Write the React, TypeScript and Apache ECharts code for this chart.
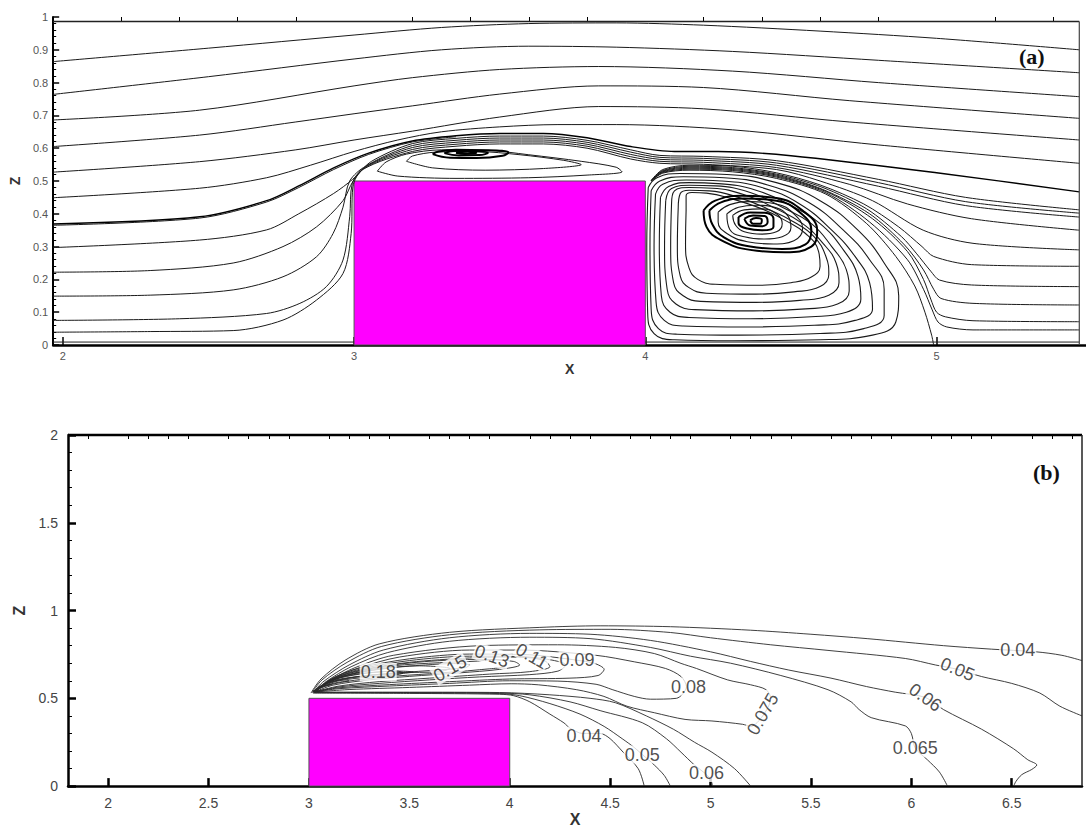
import React, { useEffect, useRef } from "react";
import * as echarts from "echarts";

type P = [number, number][];

const FONT = "Liberation Sans, Arial, sans-serif";

// ---------- axes / ticks ----------
const A_X_TICKS = [2, 3, 4, 5];
const A_X_MINOR = [2.2, 2.4, 2.6, 2.8, 3.2, 3.4, 3.6, 3.8, 4.2, 4.4, 4.6, 4.8, 5.2, 5.4];
const B_X_TICKS = [2, 2.5, 3, 3.5, 4, 4.5, 5, 5.5, 6, 6.5];
const B_X_MINOR = [1.9, 2.1, 2.2, 2.3, 2.4, 2.6, 2.7, 2.8, 2.9, 3.1, 3.2, 3.3, 3.4, 3.6, 3.7, 3.8, 3.9, 4.1, 4.2, 4.3, 4.4, 4.6, 4.7, 4.8, 4.9, 5.1, 5.2, 5.3, 5.4, 5.6, 5.7, 5.8, 5.9, 6.1, 6.2, 6.3, 6.4, 6.6, 6.7, 6.8];

// obstacle (block)
const BLOCK_X = [3, 4];
const BLOCK_Z = [0, 0.5];

// frames
const A_FRAME_TOP: P = [[1.967, 0.986], [5.49, 0.986]];
const A_FRAME_RIGHT: P = [[5.49, 0], [5.49, 0.986]];
const B_FRAME_TOP: P = [[1.8, 2], [6.85, 2]];
const B_FRAME_RIGHT: P = [[6.85, 0], [6.85, 2]];

// ---------- panel (a) streamlines ----------
const A_S1: P = [[1.967, 0.864], [2.5, 0.905], [3.0, 0.945], [3.3, 0.968], [3.6, 0.98], [3.9, 0.982], [4.2, 0.975], [4.6, 0.957], [5.0, 0.935], [5.49, 0.9]];
const A_S2: P = [[1.967, 0.764], [2.5, 0.818], [3.0, 0.872], [3.3, 0.9], [3.6, 0.911], [3.9, 0.908], [4.3, 0.895], [4.8, 0.868], [5.49, 0.83]];
const A_S3: P = [[1.967, 0.686], [2.47, 0.716], [3.0, 0.79], [3.2, 0.815], [3.5, 0.84], [3.84, 0.849], [4.3, 0.835], [4.8, 0.8], [5.49, 0.757]];
const A_S4: P = [[1.967, 0.605], [2.47, 0.64], [2.8, 0.68], [3.0, 0.705], [3.2, 0.729], [3.5, 0.765], [3.84, 0.79], [4.2, 0.785], [4.7, 0.745], [5.49, 0.691]];
const A_S5: P = [[1.967, 0.527], [2.47, 0.559], [2.8, 0.595], [3.0, 0.625], [3.2, 0.652], [3.5, 0.695], [3.84, 0.727], [4.2, 0.72], [4.7, 0.68], [5.49, 0.625]];
const A_S6: P = [[1.967, 0.449], [2.47, 0.478], [2.7, 0.51], [2.85, 0.548], [3.0, 0.59], [3.15, 0.625], [3.3, 0.65], [3.5, 0.665], [3.7, 0.672], [3.9, 0.672], [4.3, 0.656], [4.8, 0.61], [5.49, 0.554]];
const A_S7: P = [[1.967, 0.369], [2.47, 0.391], [2.7, 0.44], [2.81, 0.485], [2.93, 0.54], [3.05, 0.585], [3.2, 0.622], [3.35, 0.638], [3.5, 0.645], [3.65, 0.645], [3.8, 0.632], [3.95, 0.605], [4.1, 0.59], [4.25, 0.59], [4.5, 0.577], [5.0, 0.525], [5.49, 0.467]];
const A_S7B: P = [[1.967, 0.365], [2.47, 0.387], [2.7, 0.436], [2.81, 0.48], [2.93, 0.535], [3.05, 0.581], [3.2, 0.619], [3.35, 0.635]];
const A_S8: P = [[1.967, 0.297], [2.47, 0.32], [2.7, 0.351], [2.81, 0.4], [2.93, 0.462], [2.995, 0.505], [3.06, 0.56], [3.2, 0.614], [3.35, 0.63], [3.5, 0.637], [3.65, 0.637], [3.8, 0.624], [3.95, 0.595], [4.05, 0.578], [4.2, 0.575], [4.45, 0.562], [4.8, 0.505], [5.1, 0.45], [5.49, 0.412]];
const A_S9: P = [[1.967, 0.222], [2.3, 0.227], [2.585, 0.25], [2.756, 0.3], [2.871, 0.36], [2.962, 0.44], [2.997, 0.5], [3.05, 0.55], [3.2, 0.608], [3.35, 0.624], [3.5, 0.631], [3.65, 0.631], [3.8, 0.618], [3.95, 0.588], [4.05, 0.572], [4.2, 0.569], [4.45, 0.555], [4.8, 0.495], [5.1, 0.437], [5.49, 0.402]];
const A_S10: P = [[1.967, 0.149], [2.3, 0.152], [2.585, 0.168], [2.756, 0.208], [2.871, 0.269], [2.928, 0.34], [2.962, 0.42], [2.985, 0.5], [3.04, 0.545], [3.2, 0.602], [3.35, 0.618], [3.5, 0.625], [3.65, 0.625], [3.8, 0.612], [3.95, 0.581], [4.05, 0.566], [4.2, 0.563], [4.45, 0.548], [4.8, 0.484], [5.1, 0.425], [5.49, 0.39]];
const A_S11: P = [[1.967, 0.075], [2.4, 0.08], [2.699, 0.096], [2.814, 0.127], [2.905, 0.178], [2.962, 0.259], [2.985, 0.391], [2.994, 0.493], [3.035, 0.54], [3.2, 0.596], [3.35, 0.612], [3.5, 0.619], [3.65, 0.619], [3.8, 0.606], [3.95, 0.574], [4.05, 0.56], [4.2, 0.557], [4.45, 0.541], [4.7, 0.49], [4.9, 0.43], [5.12, 0.385], [5.49, 0.35]];
const A_S12: P = [[1.967, 0.039], [2.3, 0.041], [2.585, 0.044], [2.756, 0.076], [2.871, 0.137], [2.962, 0.218], [2.99, 0.34], [2.996, 0.482], [3.03, 0.535], [3.2, 0.59], [3.35, 0.606], [3.5, 0.613], [3.65, 0.613], [3.8, 0.6], [3.95, 0.567], [4.05, 0.554], [4.2, 0.551], [4.45, 0.535], [4.6, 0.5], [4.78, 0.44], [4.954, 0.35], [5.125, 0.31], [5.49, 0.29]];
const A_GROUND_L: P = [[1.967, 0.009], [3.0, 0.009]];
const A_GROUND_R: P = [[4.0, 0.009], [5.49, 0.009]];

// top recirculation bubble
const A_TB1: P = [[3.08, 0.53], [3.15, 0.515], [3.35, 0.508], [3.6, 0.51], [3.8, 0.518], [3.92, 0.528], [3.9, 0.542], [3.78, 0.56], [3.6, 0.58], [3.45, 0.594], [3.3, 0.595], [3.18, 0.582], [3.11, 0.558], [3.08, 0.53]];
const A_TB2: P = [[3.18, 0.56], [3.27, 0.54], [3.45, 0.533], [3.65, 0.538], [3.78, 0.55], [3.72, 0.563], [3.57, 0.58], [3.42, 0.59], [3.28, 0.588], [3.2, 0.576], [3.18, 0.56]];
const A_TB3: P = [[3.27, 0.582], [3.33, 0.571], [3.42, 0.57], [3.51, 0.577], [3.53, 0.587], [3.45, 0.594], [3.35, 0.595], [3.29, 0.59], [3.27, 0.582]];
const A_TB4: P = [[3.31, 0.585], [3.36, 0.578], [3.43, 0.579], [3.46, 0.586], [3.41, 0.591], [3.35, 0.592], [3.31, 0.585]];
const A_TB5: P = [[3.35, 0.586], [3.38, 0.582], [3.42, 0.585], [3.39, 0.589], [3.35, 0.586]];

// wake: lines leaving to the right and separatrix
const A_W1: P = [[4.02, 0.502], [4.06, 0.535], [4.15, 0.548], [4.3, 0.545], [4.45, 0.525], [4.6, 0.488], [4.75, 0.43], [4.87, 0.36], [4.95, 0.3], [4.99, 0.27], [5.12, 0.245], [5.49, 0.24]];
const A_W2: P = [[4.02, 0.501], [4.06, 0.532], [4.15, 0.545], [4.3, 0.541], [4.45, 0.521], [4.61, 0.48], [4.76, 0.415], [4.88, 0.33], [4.93, 0.28], [4.98, 0.225], [5.01, 0.198], [5.12, 0.183], [5.49, 0.178]];
const A_W3: P = [[4.02, 0.5], [4.06, 0.53], [4.15, 0.542], [4.3, 0.538], [4.45, 0.518], [4.61, 0.474], [4.77, 0.4], [4.89, 0.305], [4.955, 0.229], [4.99, 0.17], [5.015, 0.142], [5.125, 0.127], [5.49, 0.122]];
const A_W4: P = [[4.02, 0.5], [4.06, 0.528], [4.15, 0.539], [4.3, 0.535], [4.45, 0.515], [4.62, 0.468], [4.78, 0.385], [4.9, 0.285], [4.955, 0.2], [4.98, 0.14], [5.0, 0.1], [5.03, 0.086], [5.125, 0.074], [5.49, 0.071]];
const A_W5: P = [[4.02, 0.5], [4.06, 0.526], [4.15, 0.536], [4.3, 0.532], [4.45, 0.512], [4.62, 0.464], [4.77, 0.375], [4.9, 0.26], [4.955, 0.17], [4.985, 0.107], [5.005, 0.07], [5.035, 0.055], [5.125, 0.046], [5.49, 0.046]];
const A_SEP: P = [[4.02, 0.5], [4.06, 0.524], [4.15, 0.533], [4.3, 0.528], [4.45, 0.508], [4.62, 0.46], [4.76, 0.37], [4.86, 0.27], [4.925, 0.18], [4.96, 0.1], [4.983, 0.03], [4.99, 0.0]];

// wake vortex loops (outer -> inner)
const A_LOOP1: P = [[4.01, 0.48], [4.005, 0.3], [4.008, 0.1], [4.03, 0.035], [4.1, 0.016], [4.3, 0.013], [4.6, 0.016], [4.78, 0.03], [4.86, 0.07], [4.87, 0.15], [4.82, 0.25], [4.73, 0.35], [4.6, 0.44], [4.45, 0.495], [4.28, 0.52], [4.12, 0.523], [4.04, 0.51], [4.01, 0.48]];
const A_LOOP2: P = [[4.02, 0.47], [4.016, 0.3], [4.02, 0.11], [4.045, 0.05], [4.11, 0.033], [4.32, 0.03], [4.6, 0.035], [4.75, 0.05], [4.82, 0.09], [4.82, 0.17], [4.77, 0.26], [4.68, 0.35], [4.56, 0.435], [4.42, 0.488], [4.27, 0.51], [4.13, 0.513], [4.05, 0.5], [4.02, 0.47]];
const A_LOOP3: P = [[4.035, 0.46], [4.03, 0.3], [4.037, 0.13], [4.065, 0.075], [4.13, 0.058], [4.34, 0.055], [4.58, 0.06], [4.72, 0.075], [4.78, 0.11], [4.77, 0.19], [4.72, 0.27], [4.64, 0.35], [4.53, 0.43], [4.4, 0.48], [4.26, 0.5], [4.14, 0.503], [4.06, 0.49], [4.035, 0.46]];
const A_LOOP4: P = [[4.052, 0.45], [4.048, 0.3], [4.055, 0.15], [4.085, 0.1], [4.15, 0.084], [4.36, 0.08], [4.57, 0.086], [4.69, 0.1], [4.74, 0.14], [4.73, 0.21], [4.68, 0.29], [4.6, 0.37], [4.5, 0.425], [4.38, 0.472], [4.25, 0.492], [4.15, 0.495], [4.08, 0.483], [4.052, 0.45]];
const A_LOOP5: P = [[4.07, 0.44], [4.066, 0.3], [4.075, 0.17], [4.105, 0.125], [4.17, 0.108], [4.37, 0.104], [4.55, 0.11], [4.66, 0.125], [4.7, 0.165], [4.69, 0.23], [4.64, 0.3], [4.57, 0.37], [4.47, 0.42], [4.36, 0.465], [4.24, 0.485], [4.15, 0.487], [4.09, 0.477], [4.07, 0.44]];
const A_LOOP6: P = [[4.09, 0.43], [4.087, 0.3], [4.097, 0.19], [4.13, 0.15], [4.19, 0.133], [4.38, 0.13], [4.53, 0.136], [4.63, 0.152], [4.665, 0.19], [4.655, 0.25], [4.61, 0.31], [4.54, 0.37], [4.45, 0.415], [4.34, 0.458], [4.23, 0.478], [4.15, 0.48], [4.1, 0.47], [4.09, 0.43]];
const A_LOOP7: P = [[4.113, 0.42], [4.11, 0.3], [4.12, 0.21], [4.15, 0.175], [4.21, 0.158], [4.38, 0.155], [4.51, 0.162], [4.6, 0.178], [4.63, 0.215], [4.62, 0.27], [4.58, 0.33], [4.51, 0.375], [4.42, 0.415], [4.32, 0.45], [4.22, 0.47], [4.15, 0.472], [4.12, 0.462], [4.113, 0.42]];
const A_LOOP8: P = [[4.14, 0.41], [4.138, 0.31], [4.15, 0.235], [4.18, 0.2], [4.24, 0.185], [4.39, 0.182], [4.5, 0.19], [4.57, 0.207], [4.6, 0.24], [4.595, 0.285], [4.55, 0.34], [4.48, 0.38], [4.4, 0.415], [4.3, 0.445], [4.21, 0.463], [4.16, 0.465], [4.14, 0.455], [4.14, 0.41]];
const A_CORE1: P = [[4.2, 0.41], [4.24, 0.44], [4.33, 0.455], [4.45, 0.448], [4.54, 0.41], [4.59, 0.35], [4.57, 0.3], [4.48, 0.283], [4.36, 0.29], [4.26, 0.32], [4.21, 0.36], [4.2, 0.41]];
const A_CORE2: P = [[4.22, 0.41], [4.26, 0.435], [4.34, 0.447], [4.45, 0.44], [4.53, 0.405], [4.57, 0.35], [4.55, 0.307], [4.47, 0.293], [4.36, 0.3], [4.27, 0.328], [4.23, 0.368], [4.22, 0.41]];
const A_CORE3: P = [[4.25, 0.405], [4.29, 0.428], [4.36, 0.437], [4.45, 0.43], [4.51, 0.4], [4.54, 0.355], [4.51, 0.318], [4.44, 0.308], [4.35, 0.315], [4.28, 0.34], [4.25, 0.375], [4.25, 0.405]];
const A_CORE4: P = [[4.28, 0.4], [4.32, 0.42], [4.38, 0.426], [4.45, 0.418], [4.49, 0.393], [4.5, 0.358], [4.47, 0.33], [4.41, 0.323], [4.34, 0.33], [4.29, 0.352], [4.28, 0.4]];
const A_CORE5: P = [[4.3, 0.395], [4.34, 0.412], [4.4, 0.415], [4.45, 0.4], [4.47, 0.37], [4.45, 0.345], [4.4, 0.338], [4.34, 0.345], [4.31, 0.365], [4.3, 0.395]];
const A_CORE6: P = [[4.32, 0.39], [4.36, 0.404], [4.41, 0.403], [4.44, 0.385], [4.44, 0.36], [4.4, 0.35], [4.35, 0.355], [4.32, 0.372], [4.32, 0.39]];
const A_CORE7: P = [[4.34, 0.385], [4.37, 0.395], [4.41, 0.393], [4.42, 0.375], [4.4, 0.362], [4.36, 0.364], [4.34, 0.385]];
const A_CORE8: P = [[4.36, 0.38], [4.38, 0.387], [4.4, 0.382], [4.395, 0.37], [4.37, 0.37], [4.36, 0.38]];

// ---------- panel (b) contours ----------
const B_C040_UP: P = [[3.01, 0.53], [3.06, 0.61], [3.18, 0.717], [3.35, 0.81], [3.7, 0.876], [4.15, 0.904], [4.45, 0.913], [4.8, 0.908], [5.2, 0.888], [5.5, 0.865], [5.78, 0.84], [6.16, 0.8], [6.4, 0.78], [6.62, 0.765], [6.75, 0.745], [6.85, 0.715]];
const B_C050_UP: P = [[3.015, 0.532], [3.065, 0.605], [3.19, 0.705], [3.36, 0.795], [3.7, 0.862], [4.15, 0.89], [4.5, 0.893], [4.8, 0.875], [5.0, 0.845], [5.3, 0.805], [5.585, 0.773], [5.97, 0.727], [6.12, 0.69], [6.23, 0.665], [6.35, 0.624], [6.5, 0.585], [6.64, 0.53], [6.74, 0.455], [6.85, 0.4]];
const B_C060_UP: P = [[3.02, 0.534], [3.075, 0.598], [3.2, 0.69], [3.37, 0.775], [3.7, 0.845], [4.1, 0.87], [4.4, 0.865], [4.7, 0.83], [5.0, 0.765], [5.2, 0.71], [5.39, 0.661], [5.6, 0.615], [5.777, 0.567], [5.92, 0.535], [6.07, 0.505], [6.16, 0.436], [6.35, 0.324], [6.51, 0.212], [6.58, 0.15], [6.625, 0.12], [6.6, 0.095], [6.55, 0.065], [6.52, 0.025], [6.51, 0.0]];
const B_C065_UP: P = [[3.025, 0.535], [3.085, 0.595], [3.21, 0.68], [3.39, 0.76], [3.7, 0.825], [4.1, 0.848], [4.4, 0.84], [4.7, 0.79], [4.9, 0.74], [5.1, 0.7], [5.35, 0.63], [5.585, 0.549], [5.7, 0.48], [5.74, 0.436], [5.8, 0.39], [5.97, 0.343], [6.0, 0.3], [6.02, 0.215], [6.08, 0.15], [6.14, 0.08], [6.18, 0.0]];
const B_C075: P = [[3.03, 0.536], [3.1, 0.6], [3.23, 0.675], [3.42, 0.745], [3.853, 0.8], [4.238, 0.805], [4.526, 0.79], [4.72, 0.755], [4.853, 0.699], [4.93, 0.67], [5.085, 0.605], [5.2, 0.577], [5.277, 0.549], [5.3, 0.5], [5.26, 0.4], [5.2, 0.34], [5.16, 0.352], [5.007, 0.371], [4.873, 0.38], [4.72, 0.418], [4.584, 0.455], [4.469, 0.511], [4.334, 0.549], [4.142, 0.577], [4.007, 0.583], [3.8, 0.575], [3.5, 0.562], [3.2, 0.55], [3.03, 0.536]];
const B_C080: P = [[3.032, 0.537], [3.105, 0.605], [3.24, 0.67], [3.45, 0.735], [3.8, 0.775], [4.045, 0.775], [4.43, 0.745], [4.62, 0.708], [4.776, 0.67], [4.853, 0.624], [4.88, 0.567], [4.83, 0.5], [4.7, 0.495], [4.62, 0.511], [4.51, 0.55], [4.43, 0.58], [4.24, 0.598], [4.0, 0.6], [3.7, 0.585], [3.4, 0.57], [3.15, 0.555], [3.032, 0.537]];
const B_C090: P = [[3.034, 0.538], [3.11, 0.61], [3.25, 0.672], [3.5, 0.725], [3.8, 0.752], [4.1, 0.748], [4.25, 0.73], [4.335, 0.717], [4.42, 0.7], [4.47, 0.665], [4.44, 0.63], [4.3, 0.615], [4.0, 0.61], [3.7, 0.595], [3.4, 0.578], [3.15, 0.56], [3.034, 0.538]];
const B_C100: P = [[3.034, 0.538], [3.11, 0.605], [3.25, 0.665], [3.5, 0.715], [3.8, 0.74], [4.05, 0.738], [4.2, 0.72], [4.28, 0.69], [4.24, 0.655], [4.1, 0.635], [3.85, 0.622], [3.6, 0.605], [3.35, 0.585], [3.15, 0.565], [3.034, 0.538]];
const B_C110: P = [[3.033, 0.538], [3.1, 0.6], [3.24, 0.657], [3.5, 0.705], [3.8, 0.73], [3.98, 0.735], [4.11, 0.73], [4.18, 0.71], [4.2, 0.68], [4.1, 0.652], [3.9, 0.638], [3.6, 0.615], [3.35, 0.595], [3.15, 0.57], [3.033, 0.538]];
const B_C120: P = [[3.03, 0.537], [3.095, 0.595], [3.22, 0.648], [3.45, 0.695], [3.7, 0.718], [3.88, 0.722], [4.02, 0.71], [4.05, 0.69], [3.95, 0.665], [3.75, 0.645], [3.5, 0.625], [3.3, 0.605], [3.12, 0.575], [3.03, 0.537]];
const B_C130: P = [[3.03, 0.537], [3.09, 0.59], [3.21, 0.64], [3.42, 0.685], [3.65, 0.703], [3.84, 0.712], [3.911, 0.72], [3.98, 0.71], [3.98, 0.685], [3.85, 0.663], [3.6, 0.64], [3.38, 0.622], [3.18, 0.595], [3.07, 0.565], [3.03, 0.537]];
const B_C140: P = [[3.028, 0.537], [3.085, 0.585], [3.19, 0.632], [3.38, 0.672], [3.58, 0.69], [3.72, 0.698], [3.8, 0.69], [3.78, 0.675], [3.6, 0.658], [3.38, 0.64], [3.18, 0.612], [3.07, 0.575], [3.028, 0.537]];
const B_C150: P = [[3.027, 0.537], [3.08, 0.582], [3.18, 0.628], [3.35, 0.665], [3.55, 0.685], [3.703, 0.67], [3.65, 0.652], [3.45, 0.645], [3.25, 0.625], [3.1, 0.595], [3.027, 0.537]];
const B_C160: P = [[3.025, 0.537], [3.07, 0.575], [3.15, 0.615], [3.3, 0.645], [3.45, 0.655], [3.52, 0.65], [3.45, 0.64], [3.3, 0.63], [3.15, 0.605], [3.06, 0.57], [3.025, 0.537]];
const B_C180: P = [[3.022, 0.537], [3.06, 0.57], [3.13, 0.61], [3.25, 0.64], [3.345, 0.65], [3.44, 0.655], [3.47, 0.645], [3.42, 0.632], [3.3, 0.622], [3.15, 0.6], [3.07, 0.57], [3.022, 0.537]];
const B_C200: P = [[3.02, 0.537], [3.05, 0.565], [3.1, 0.59], [3.17, 0.605], [3.2, 0.6], [3.14, 0.59], [3.08, 0.572], [3.02, 0.537]];
const B_C220: P = [[3.02, 0.537], [3.04, 0.555], [3.08, 0.575], [3.11, 0.578], [3.07, 0.565], [3.02, 0.537]];
const B_C040_LO: P = [[3.02, 0.53], [3.5, 0.528], [3.95, 0.523], [4.02, 0.515], [4.1, 0.48], [4.2, 0.41], [4.27, 0.36], [4.3, 0.33], [4.363, 0.3], [4.45, 0.3], [4.5, 0.27], [4.565, 0.193], [4.64, 0.099], [4.67, 0.0]];
const B_C050_LO: P = [[3.022, 0.532], [3.5, 0.531], [3.95, 0.527], [4.05, 0.515], [4.2, 0.47], [4.35, 0.41], [4.47, 0.34], [4.56, 0.27], [4.62, 0.22], [4.66, 0.18], [4.72, 0.12], [4.77, 0.06], [4.8, 0.0]];
const B_C060_LO: P = [[3.024, 0.534], [3.5, 0.533], [3.95, 0.53], [4.1, 0.52], [4.3, 0.48], [4.45, 0.43], [4.66, 0.361], [4.78, 0.27], [4.853, 0.193], [4.92, 0.12], [4.97, 0.075], [5.0, 0.04], [5.01, 0.0]];
const B_C065_LO: P = [[3.026, 0.535], [3.5, 0.535], [3.95, 0.533], [4.2, 0.52], [4.4, 0.5], [4.526, 0.475], [4.68, 0.4], [4.815, 0.324], [4.92, 0.25], [5.007, 0.193], [5.12, 0.099], [5.2, 0.0]];

// contour labels
const B_LABEL_TEXT = ["0.18", "0.15", "0.13", "0.11", "0.09", "0.08", "0.075", "0.04", "0.05", "0.06", "0.065", "0.04", "0.05", "0.06"];
const B_LABEL_X = [3.345, 3.703, 3.911, 4.11, 4.335, 4.89, 5.26, 6.53, 6.23, 6.07, 6.02, 4.37, 4.66, 4.98];
const B_LABEL_Z = [0.65, 0.67, 0.74, 0.74, 0.717, 0.567, 0.41, 0.775, 0.665, 0.505, 0.215, 0.287, 0.18, 0.075];
const B_LABEL_ROT = [0, 30, -20, -30, 0, 0, 60, 0, -22, -35, 0, 0, 0, 0];

const A_STREAMS: P[] = [A_S1, A_S2, A_S3, A_S4, A_S5, A_S6, A_S7B, A_S8, A_S9, A_S10, A_S11, A_S12, A_TB1, A_TB2, A_W1, A_W2, A_W3, A_W4, A_W5, A_SEP];
const A_LOOPS: P[] = [A_LOOP1, A_LOOP2, A_LOOP3, A_LOOP4, A_LOOP5, A_LOOP6, A_LOOP7, A_LOOP8, A_CORE3, A_CORE4, A_CORE5];
const A_THICK: P[] = [A_TB3, A_TB4, A_TB5, A_CORE1, A_CORE2, A_CORE6, A_CORE7, A_CORE8];
const B_LINES: P[] = [B_C040_UP, B_C050_UP, B_C060_UP, B_C065_UP, B_C075, B_C080, B_C090, B_C100, B_C110, B_C120, B_C130, B_C140, B_C150, B_C160, B_C180, B_C200, B_C220, B_C040_LO, B_C050_LO, B_C060_LO, B_C065_LO];

function line(data: P, xi: number, yi: number, width: number, color: string, smooth: number | boolean = 0.3, z = 3, clip = true) {
  return {
    type: "line",
    xAxisIndex: xi,
    yAxisIndex: yi,
    data,
    symbol: "none",
    showSymbol: false,
    smooth,
    clip,
    silent: true,
    z,
    lineStyle: { color, width },
  };
}

export default function App() {
  const ref = useRef<HTMLDivElement>(null);
  useEffect(() => {
    if (!ref.current) return;
    const chart = echarts.init(ref.current, undefined, { renderer: "svg" });

    const fmt = (v: number) => String(+Number(v).toFixed(2));

    const series: any[] = [];
    series.push({
      ...line(A_GROUND_L, 0, 0, 1, "#222", false, 4),
      markArea: {
        silent: true,
        itemStyle: { color: "#ff00ff", borderColor: "#555", borderWidth: 1 },
        data: [[{ coord: [BLOCK_X[0], BLOCK_Z[0]] }, { coord: [BLOCK_X[1], BLOCK_Z[1]] }]],
      },
    });
    series.push(line(A_GROUND_R, 0, 0, 1, "#222", false, 4));
    series.push(line(A_S7, 0, 0, 1.4, "#000", 0.3, 5));
    A_STREAMS.forEach((d) => series.push(line(d, 0, 0, 1, "#1a1a1a", 0.3, 5)));
    A_LOOPS.forEach((d) => series.push(line(d, 0, 0, 1.1, "#1a1a1a", 0.45, 5)));
    A_THICK.forEach((d) => series.push(line(d, 0, 0, 2, "#000", 0.45, 5)));
    series.push(line(A_FRAME_TOP, 0, 0, 1.5, "#222", false, 6, false));
    series.push(line(A_FRAME_RIGHT, 0, 0, 1.2, "#444", false, 6, false));

    series.push({
      ...line(B_FRAME_TOP, 2, 1, 2.5, "#000", false, 6, false),
      markArea: {
        silent: true,
        itemStyle: { color: "#ff00ff", borderColor: "#555", borderWidth: 1 },
        data: [[{ coord: [BLOCK_X[0], BLOCK_Z[0]] }, { coord: [BLOCK_X[1], BLOCK_Z[1]] }]],
      },
    });
    series.push(line(B_FRAME_RIGHT, 2, 1, 1.5, "#222", false, 6, false));
    B_LINES.forEach((d) => series.push(line(d, 2, 1, 0.9, "#2a2a2a", 0.3, 5)));
    series.push({
      type: "scatter",
      xAxisIndex: 2,
      yAxisIndex: 1,
      symbol: "circle",
      symbolSize: 2,
      itemStyle: { color: "rgba(255,255,255,0)" },
      silent: true,
      z: 10,
      data: B_LABEL_TEXT.map((t, i) => ({
        name: t,
        value: [B_LABEL_X[i], B_LABEL_Z[i]],
        label: { rotate: B_LABEL_ROT[i] },
      })),
      label: {
        show: true,
        position: "inside",
        formatter: (p: any) => p.name,
        fontSize: 18,
        fontFamily: FONT,
        color: "#222",
        backgroundColor: "#fff",
        padding: [0, 1],
      },
      labelLayout: { hideOverlap: false },
    });

    const tickLabelA = { fontSize: 11, color: "#555", fontFamily: FONT };
    const tickLabelB = { fontSize: 14, color: "#444", fontFamily: FONT };

    chart.setOption({
      animation: false,
      backgroundColor: "#fff",
      grid: [
        { left: 53, top: 17, width: 1033, height: 328 },
        { left: 68, top: 435, width: 1014, height: 356 },
      ],
      xAxis: [
        {
          type: "value", gridIndex: 0, min: 1.967, max: 5.513,
          axisLine: { show: true, lineStyle: { color: "#000", width: 2.5 } },
          axisTick: { show: true, inside: true, length: 8, customValues: A_X_TICKS, lineStyle: { color: "#000", width: 1.5 } },
          axisLabel: { show: true, customValues: A_X_TICKS, margin: 5, formatter: fmt, ...tickLabelA },
          splitLine: { show: false },
          name: "X", nameLocation: "middle", nameGap: 16,
          nameTextStyle: { fontSize: 14, fontWeight: "bold", color: "#333", fontFamily: FONT },
        },
        {
          type: "value", gridIndex: 0, min: 1.967, max: 5.513,
          axisLine: { show: false },
          axisTick: { show: true, inside: true, length: 4, customValues: A_X_MINOR, lineStyle: { color: "#000", width: 1 } },
          axisLabel: { show: false },
          splitLine: { show: false },
        },
        {
          type: "value", gridIndex: 1, min: 1.8, max: 6.85,
          axisLine: { show: true, lineStyle: { color: "#000", width: 2.5 } },
          axisTick: { show: true, inside: true, length: 8, customValues: B_X_TICKS, lineStyle: { color: "#000", width: 2.5 } },
          axisLabel: { show: true, customValues: B_X_TICKS, margin: 10, formatter: fmt, ...tickLabelB },
          splitLine: { show: false },
          name: "X", nameLocation: "middle", nameGap: 20,
          nameTextStyle: { fontSize: 16, fontWeight: "bold", color: "#333", fontFamily: FONT },
        },
        {
          type: "value", gridIndex: 1, min: 1.8, max: 6.85,
          axisLine: { show: false },
          axisTick: { show: true, inside: true, length: 4, customValues: B_X_MINOR, lineStyle: { color: "#000", width: 1 } },
          axisLabel: { show: false },
          splitLine: { show: false },
        },
      ],
      yAxis: [
        {
          type: "value", gridIndex: 0, min: 0, max: 1, interval: 0.1,
          axisLine: { show: true, lineStyle: { color: "#000", width: 2 } },
          axisTick: { show: true, inside: true, length: 6, lineStyle: { color: "#000", width: 1.5 } },
          minorTick: { show: true, splitNumber: 5, length: 3, lineStyle: { color: "#000", width: 1 } },
          axisLabel: { show: true, margin: 5, formatter: fmt, ...tickLabelA },
          splitLine: { show: false },
          name: "Z", nameLocation: "middle", nameGap: 22, nameRotate: 90,
          nameTextStyle: { fontSize: 14, fontWeight: "bold", color: "#333", fontFamily: FONT },
        },
        {
          type: "value", gridIndex: 1, min: 0, max: 2, interval: 0.5,
          axisLine: { show: true, lineStyle: { color: "#000", width: 2.5 } },
          axisTick: { show: true, inside: true, length: 8, lineStyle: { color: "#000", width: 2.5 } },
          minorTick: { show: true, splitNumber: 5, length: 4, lineStyle: { color: "#000", width: 1 } },
          axisLabel: { show: true, margin: 10, formatter: fmt, ...tickLabelB },
          splitLine: { show: false },
          name: "Z", nameLocation: "middle", nameGap: 40, nameRotate: 90,
          nameTextStyle: { fontSize: 16, fontWeight: "bold", color: "#333", fontFamily: FONT },
        },
      ],
      graphic: [
        { type: "text", left: 1019, top: 45, style: { text: "(a)", font: 'bold 22px "Liberation Serif", serif', fill: "#111" } },
        { type: "text", left: 1033, top: 461, style: { text: "(b)", font: 'bold 22px "Liberation Serif", serif', fill: "#111" } },
      ],
      series,
    });

    return () => chart.dispose();
  }, []);

  return <div ref={ref} style={{ position: "fixed", left: 0, top: 0, width: 1086, height: 828 }} />;
}
